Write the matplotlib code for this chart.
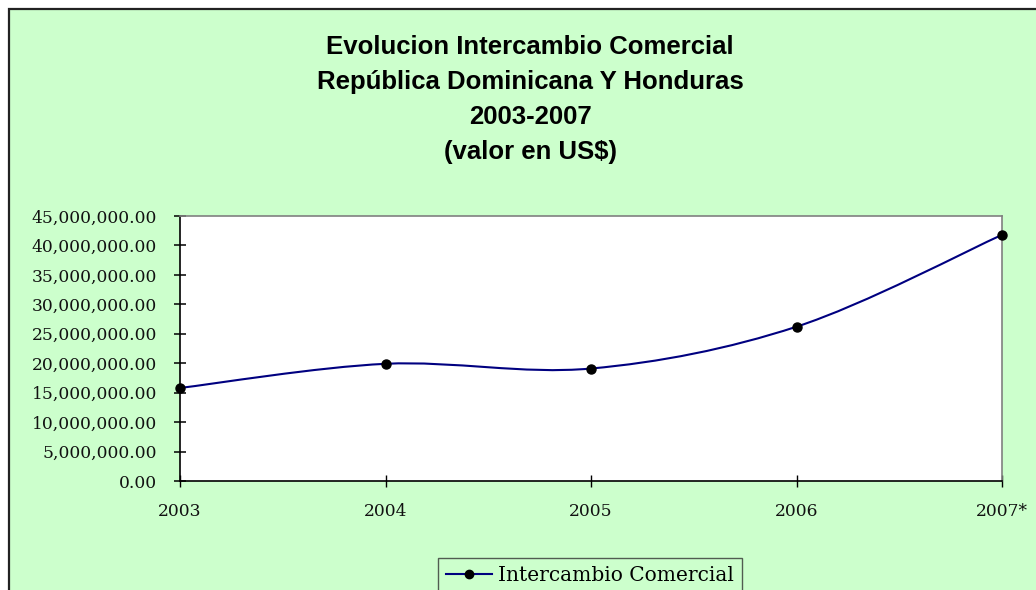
import matplotlib
matplotlib.use("Agg")
import matplotlib.pyplot as plt
from matplotlib.patches import Rectangle, PathPatch
from matplotlib.path import Path
from matplotlib.lines import Line2D
from matplotlib.ticker import FuncFormatter, MultipleLocator

# ---- data ----
categories = ["2003", "2004", "2005", "2006", "2007*"]
values = [15.8e6, 19.9e6, 19.1e6, 26.2e6, 41.8e6]
series_name = "Intercambio Comercial"
title_lines = ["Evolucion Intercambio Comercial",
               "República Dominicana Y Honduras",
               "2003-2007",
               "(valor en US$)"]

W, H = 1036, 590
fig = plt.figure(figsize=(W / 100, H / 100), dpi=100)
fig.patch.set_facecolor("white")

# outer chart area
bg = Rectangle((9 / W, -0.05), 1.1, 1 - 9 / H + 0.05, transform=fig.transFigure,
               facecolor="#CCFFCC", edgecolor="#222222", linewidth=1.6, zorder=-5)
fig.patches.append(bg)

ax = fig.add_axes([180 / W, (H - 481) / H, (1002 - 180) / W, (481 - 216) / H])
ax.set_zorder(1)
ax.set_facecolor("white")

x = list(range(len(categories)))

# Excel-like smoothed curve (Catmull-Rom Bezier)
pts = list(zip(x, values))
verts = [pts[0]]
codes = [Path.MOVETO]
n = len(pts)
for i in range(n - 1):
    p0 = pts[i - 1] if i > 0 else pts[i]
    p1 = pts[i]
    p2 = pts[i + 1]
    p3 = pts[i + 2] if i + 2 < n else pts[i + 1]
    c1 = (p1[0] + (p2[0] - p0[0]) / 6, p1[1] + (p2[1] - p0[1]) / 6)
    c2 = (p2[0] - (p3[0] - p1[0]) / 6, p2[1] - (p3[1] - p1[1]) / 6)
    verts += [c1, c2, p2]
    codes += [Path.CURVE4] * 3
curve = PathPatch(Path(verts, codes), facecolor="none", edgecolor="#000080",
                  linewidth=1.5, zorder=3, clip_on=False)
ax.add_patch(curve)
ax.plot(x, values, linestyle="none", marker="o", color="black",
        markersize=6.5, zorder=4, clip_on=False)

ax.set_xlim(0, len(categories) - 1)
ax.set_ylim(0, 45e6)
ax.yaxis.set_major_locator(MultipleLocator(5e6))
ax.yaxis.set_major_formatter(FuncFormatter(lambda v, p: f"{v:,.2f}"))
ax.set_xticks(x)
ax.set_xticklabels(categories)

for s in ["top", "right"]:
    ax.spines[s].set_color("#808080")
    ax.spines[s].set_linewidth(1.2)
for s in ["left", "bottom"]:
    ax.spines[s].set_color("black")
    ax.spines[s].set_linewidth(1.2)

ax.tick_params(axis="y", direction="inout", length=9, width=1.1, pad=12)
ax.tick_params(axis="x", direction="inout", length=9, width=1.0, pad=11)
for lab in ax.get_yticklabels() + ax.get_xticklabels():
    lab.set_fontfamily("DejaVu Serif")
    lab.set_fontsize(12.3)
    lab.set_color("#111111")

# title
for i, line in enumerate(title_lines):
    fig.text(530 / W, 1 - (47 + 35 * i) / H, line, ha="center", va="center",
             fontsize=18.5, fontweight="bold", family="Liberation Sans")

# legend
handle = Line2D([], [], color="#000080", linewidth=1.5, marker="o",
                markerfacecolor="black", markeredgecolor="black", markersize=6)
leg = fig.legend([handle], [series_name], loc="upper center",
                 bbox_to_anchor=(590 / W, 1 - 548 / H), frameon=True,
                 prop=dict(family="DejaVu Serif", size=14.5), handlelength=2.3,
                 handletextpad=0.3, borderpad=0.4, fancybox=False)
leg.get_frame().set_edgecolor("#333333")
leg.get_frame().set_facecolor("#CCFFCC")
leg.get_frame().set_linewidth(1.0)

fig.savefig("out.png", dpi=100, facecolor=fig.get_facecolor())
